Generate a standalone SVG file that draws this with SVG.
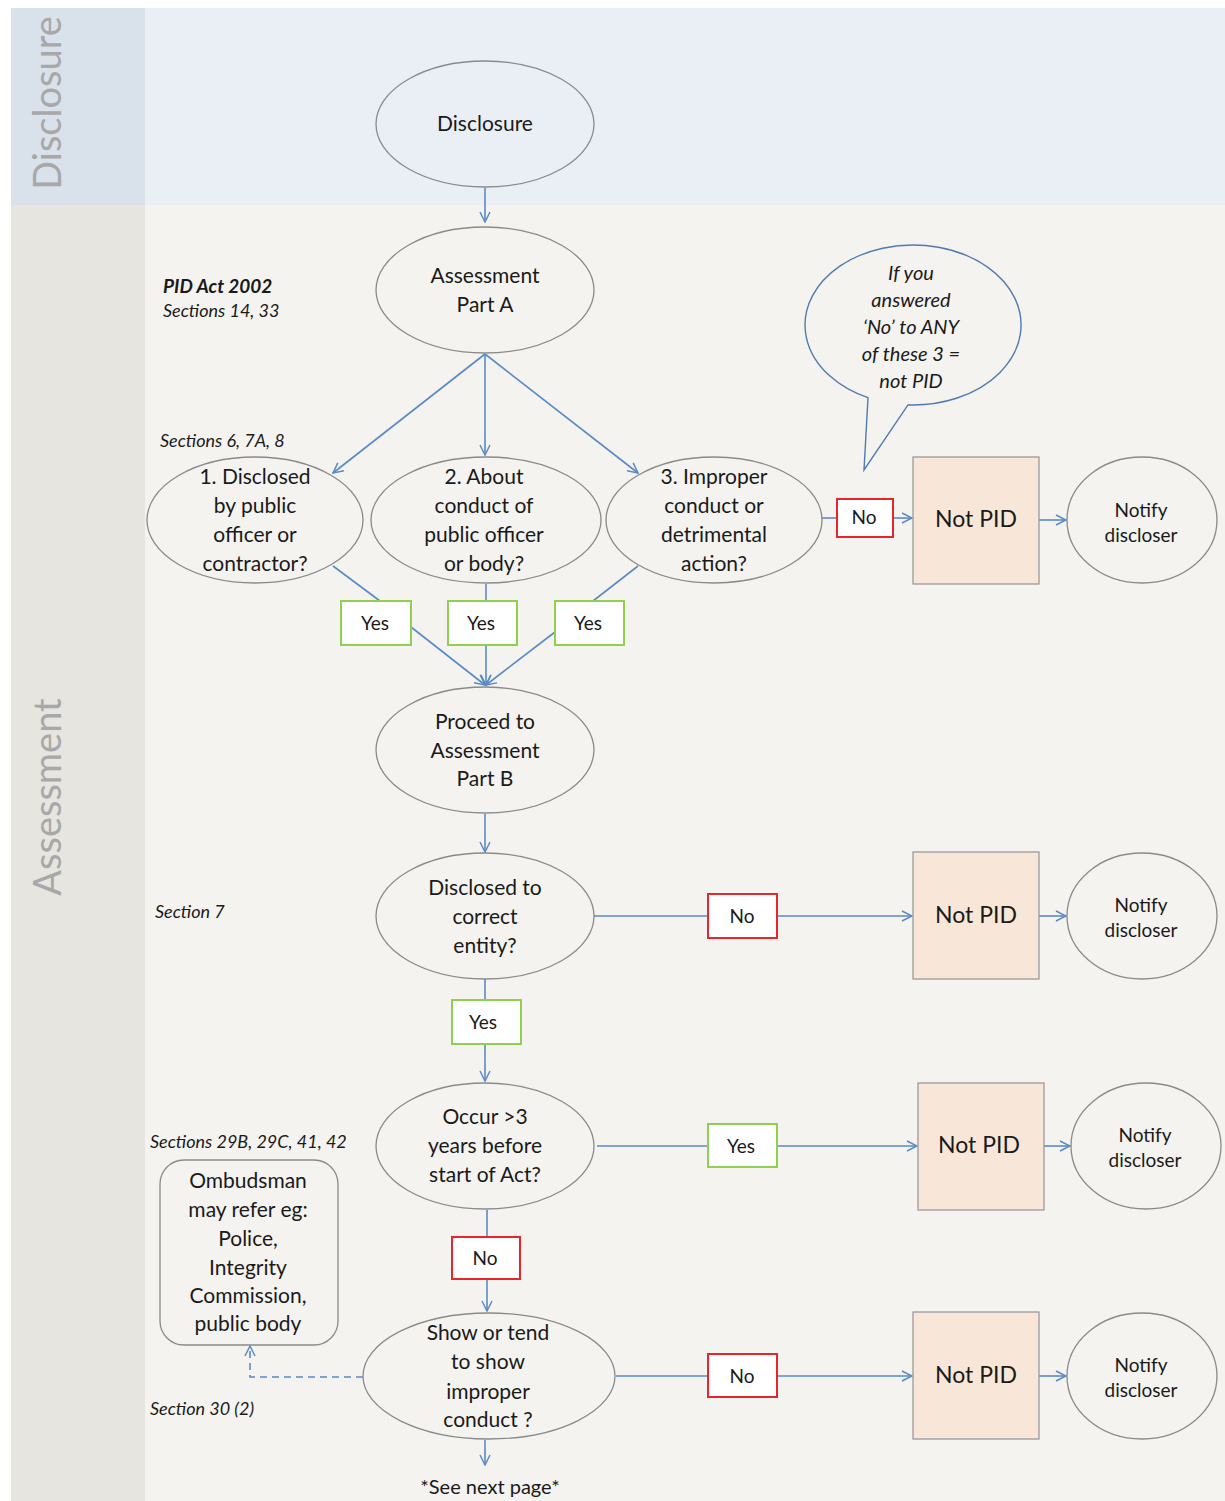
<svg xmlns="http://www.w3.org/2000/svg" width="1225" height="1501" viewBox="0 0 1225 1501">
<defs>
<marker id="ah" viewBox="0 0 12 12" refX="11" refY="6" markerWidth="12" markerHeight="12" markerUnits="userSpaceOnUse" orient="auto">
<path d="M1,1 L11,6 L1,11" fill="none" stroke="#5a8ac6" stroke-width="1.5"/>
</marker>
</defs>
<style>
.n{fill:none;stroke:#8a8a8a;stroke-width:1.3}
.t{font-family:Lato,"Open Sans",sans-serif;font-size:21px;fill:#1a1a1a;text-anchor:middle}
.np-t{font-size:23px}
.s{font-family:Lato,"Open Sans",sans-serif;font-size:19px;fill:#1a1a1a;text-anchor:middle}
.lab{font-family:Lato,"Open Sans",sans-serif;font-size:18px;font-style:italic;fill:#1a1a1a}
.bt{font-size:20px;text-anchor:middle}
.c{fill:none;stroke:#5a8ac6;stroke-width:1.6}
.yes{fill:#ffffff;stroke:#8fd14f;stroke-width:2}
.no{fill:#ffffff;stroke:#e8252b;stroke-width:2}
.np{fill:#f8e6d8;stroke:#9a9a9a;stroke-width:1.3}
.lane{font-family:Lato,"Open Sans",sans-serif;font-size:38px;fill:#a8a8a8}
</style>
<rect width="1225" height="1501" fill="#ffffff"/>
<rect x="11" y="8" width="134" height="197" fill="#d9e1eb"/>
<rect x="145" y="8" width="1080" height="197" fill="#eaeff6"/>
<rect x="11" y="205" width="134" height="1296" fill="#e7e5df"/>
<rect x="145" y="205" width="1080" height="1296" fill="#f4f3ef"/>
<text class="lane" transform="translate(61,103) rotate(-90)" text-anchor="middle">Disclosure</text>
<text class="lane" transform="translate(61,797) rotate(-90)" text-anchor="middle">Assessment</text>

<g id="labels">
<text class="lab" x="163" y="293" style="font-weight:bold;font-size:19px">PID Act 2002</text>
<text class="lab" x="163" y="317">Sections 14, 33</text>
<text class="lab" x="160" y="447">Sections 6, 7A, 8</text>
<text class="lab" x="155" y="918">Section 7</text>
<text class="lab" x="150" y="1148">Sections 29B, 29C, 41, 42</text>
<text class="lab" x="150" y="1415">Section 30 (2)</text>
<text class="s" x="490" y="1494" style="font-size:20px">*See next page*</text>
</g>

<g id="connectors">
<line class="c" x1="485" y1="188" x2="485" y2="222" marker-end="url(#ah)"/>
<line class="c" x1="485" y1="354" x2="333" y2="473" marker-end="url(#ah)"/>
<line class="c" x1="485" y1="354" x2="485" y2="455" marker-end="url(#ah)"/>
<line class="c" x1="485" y1="354" x2="638" y2="473" marker-end="url(#ah)"/>
<line class="c" x1="822" y1="518" x2="837" y2="518"/>
<line class="c" x1="893" y1="518" x2="912" y2="518" marker-end="url(#ah)"/>
<line class="c" x1="1039" y1="520" x2="1066" y2="520" marker-end="url(#ah)"/>
<line class="c" x1="333" y1="566" x2="380" y2="601"/>
<line class="c" x1="411" y1="627" x2="485" y2="685" marker-end="url(#ah)"/>
<line class="c" x1="486" y1="584" x2="486" y2="601"/>
<line class="c" x1="486" y1="645" x2="486" y2="685" marker-end="url(#ah)"/>
<line class="c" x1="638" y1="566" x2="593" y2="601"/>
<line class="c" x1="555" y1="632" x2="486" y2="685" marker-end="url(#ah)"/>
<line class="c" x1="485" y1="814" x2="485" y2="852" marker-end="url(#ah)"/>
<line class="c" x1="594" y1="916" x2="708" y2="916"/>
<line class="c" x1="777" y1="916" x2="912" y2="916" marker-end="url(#ah)"/>
<line class="c" x1="1039" y1="916" x2="1066" y2="916" marker-end="url(#ah)"/>
<line class="c" x1="485" y1="979" x2="485" y2="1000"/>
<line class="c" x1="485" y1="1044" x2="485" y2="1081" marker-end="url(#ah)"/>
<line class="c" x1="597" y1="1146" x2="708" y2="1146"/>
<line class="c" x1="777" y1="1146" x2="917" y2="1146" marker-end="url(#ah)"/>
<line class="c" x1="1044" y1="1146" x2="1070" y2="1146" marker-end="url(#ah)"/>
<line class="c" x1="487" y1="1210" x2="487" y2="1237"/>
<line class="c" x1="487" y1="1279" x2="487" y2="1311" marker-end="url(#ah)"/>
<line class="c" x1="616" y1="1376" x2="708" y2="1376"/>
<line class="c" x1="777" y1="1376" x2="912" y2="1376" marker-end="url(#ah)"/>
<line class="c" x1="1039" y1="1376" x2="1066" y2="1376" marker-end="url(#ah)"/>
<line class="c" x1="485" y1="1440" x2="485" y2="1465" marker-end="url(#ah)"/>
<polyline class="c" points="363,1377 250,1377 250,1346" stroke-dasharray="7,5" marker-end="url(#ah)"/>
</g>

<g id="disclosure"><ellipse class="n" cx="485" cy="124" rx="109" ry="63"/><text class="t" x="485" y="131">Disclosure</text></g>
<g id="assessA"><ellipse class="n" cx="485" cy="290" rx="109" ry="63"/><text class="t" x="485" y="283">Assessment</text><text class="t" x="485" y="312">Part A</text></g>
<g id="q1"><ellipse class="n" cx="255" cy="520" rx="108" ry="63"/>
<text class="t" x="255" y="484">1. Disclosed</text><text class="t" x="255" y="513">by public</text><text class="t" x="255" y="542">officer or</text><text class="t" x="255" y="571">contractor?</text></g>
<g id="q2"><ellipse class="n" cx="486" cy="520" rx="115" ry="63"/>
<text class="t" x="484" y="484">2. About</text><text class="t" x="484" y="513">conduct of</text><text class="t" x="484" y="542">public officer</text><text class="t" x="484" y="571">or body?</text></g>
<g id="q3"><ellipse class="n" cx="714" cy="520" rx="108" ry="63"/>
<text class="t" x="714" y="484">3. Improper</text><text class="t" x="714" y="513">conduct or</text><text class="t" x="714" y="542">detrimental</text><text class="t" x="714" y="571">action?</text></g>
<g id="bubble">
<path d="M868,397.7 A108,80 0 1 1 908,404.9 L864,470 Z" fill="none" stroke="#4f7bb0" stroke-width="1.4"/>
<text class="lab bt" x="911" y="280">If you</text>
<text class="lab bt" x="911" y="307">answered</text>
<text class="lab bt" x="911" y="334">‘No’ to ANY</text>
<text class="lab bt" x="911" y="361">of these 3 =</text>
<text class="lab bt" x="911" y="388">not PID</text>
</g>
<g id="no1"><rect class="no" x="837" y="499" width="56" height="38"/><text class="s" x="864" y="524">No</text></g>
<g id="notpid1"><rect class="np" x="913" y="457" width="126" height="127"/><text class="t np-t" x="976" y="527">Not PID</text></g>
<g id="notify1"><ellipse class="n" cx="1142" cy="520" rx="75" ry="63"/><text class="s" x="1141" y="517">Notify</text><text class="s" x="1141" y="542">discloser</text></g>

<g id="yes1"><rect class="yes" x="341" y="601" width="70" height="44"/><text class="s" x="375" y="630">Yes</text></g>
<g id="yes2"><rect class="yes" x="448" y="601" width="69" height="44"/><text class="s" x="481" y="630">Yes</text></g>
<g id="yes3"><rect class="yes" x="555" y="601" width="69" height="44"/><text class="s" x="588" y="630">Yes</text></g>

<g id="assessB"><ellipse class="n" cx="485" cy="750" rx="109" ry="63"/>
<text class="t" x="485" y="729">Proceed to</text><text class="t" x="485" y="758">Assessment</text><text class="t" x="485" y="786">Part B</text></g>

<g id="q4"><ellipse class="n" cx="485" cy="916" rx="109" ry="63"/>
<text class="t" x="485" y="895">Disclosed to</text><text class="t" x="485" y="924">correct</text><text class="t" x="485" y="953">entity?</text></g>
<g id="no2"><rect class="no" x="708" y="894" width="69" height="44"/><text class="s" x="742" y="923">No</text></g>
<g id="notpid2"><rect class="np" x="913" y="852" width="126" height="127"/><text class="t np-t" x="976" y="923">Not PID</text></g>
<g id="notify2"><ellipse class="n" cx="1142" cy="916" rx="75" ry="63"/><text class="s" x="1141" y="912">Notify</text><text class="s" x="1141" y="937">discloser</text></g>
<g id="yes4"><rect class="yes" x="452" y="1000" width="69" height="44"/><text class="s" x="483" y="1029">Yes</text></g>

<g id="q5"><ellipse class="n" cx="485" cy="1146" rx="109" ry="63"/>
<text class="t" x="485" y="1124">Occur &gt;3</text><text class="t" x="485" y="1153">years before</text><text class="t" x="485" y="1182">start of Act?</text></g>
<g id="yes5"><rect class="yes" x="708" y="1124" width="69" height="43"/><text class="s" x="741" y="1153">Yes</text></g>
<g id="notpid3"><rect class="np" x="918" y="1083" width="126" height="127"/><text class="t np-t" x="979" y="1153">Not PID</text></g>
<g id="notify3"><ellipse class="n" cx="1146" cy="1146" rx="75" ry="63"/><text class="s" x="1145" y="1142">Notify</text><text class="s" x="1145" y="1167">discloser</text></g>
<g id="no3"><rect class="no" x="452" y="1237" width="68" height="42"/><text class="s" x="485" y="1265">No</text></g>

<g id="q6"><ellipse class="n" cx="489" cy="1376" rx="126" ry="63"/>
<text class="t" x="488" y="1340">Show or tend</text><text class="t" x="488" y="1369">to show</text><text class="t" x="488" y="1399">improper</text><text class="t" x="488" y="1427">conduct ?</text></g>
<g id="no4"><rect class="no" x="708" y="1354" width="69" height="43"/><text class="s" x="742" y="1383">No</text></g>
<g id="notpid4"><rect class="np" x="913" y="1312" width="126" height="127"/><text class="t np-t" x="976" y="1383">Not PID</text></g>
<g id="notify4"><ellipse class="n" cx="1142" cy="1376" rx="75" ry="63"/><text class="s" x="1141" y="1372">Notify</text><text class="s" x="1141" y="1397">discloser</text></g>

<g id="ombudsman"><rect class="n" x="160" y="1160" width="178" height="185" rx="24"/>
<text class="t" x="248" y="1188">Ombudsman</text><text class="t" x="248" y="1217">may refer eg:</text><text class="t" x="248" y="1246">Police,</text><text class="t" x="248" y="1275">Integrity</text><text class="t" x="248" y="1303">Commission,</text><text class="t" x="248" y="1331">public body</text></g>
</svg>
